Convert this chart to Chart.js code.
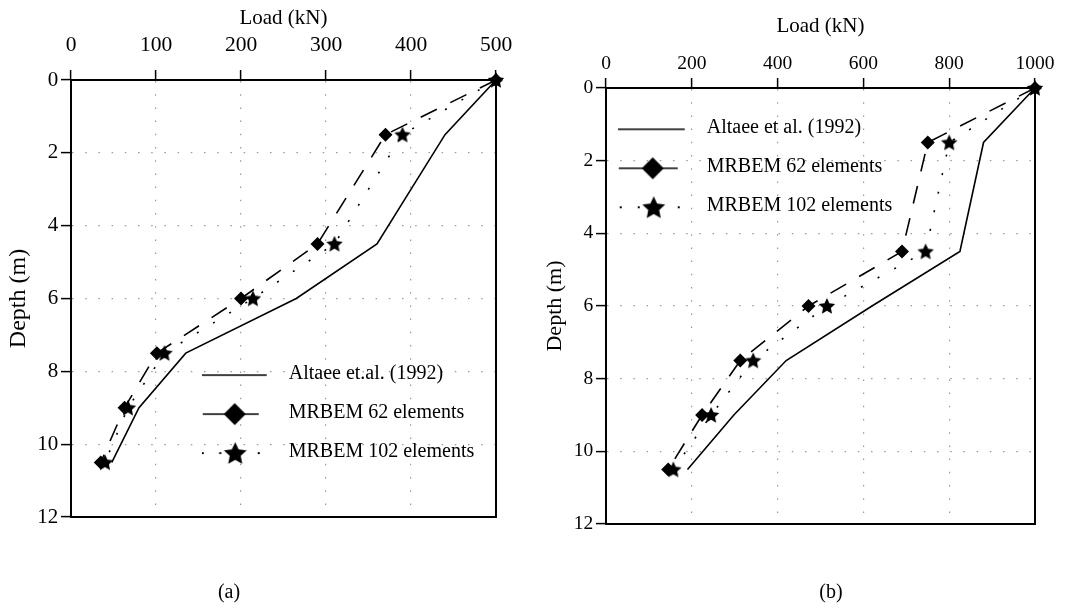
<!DOCTYPE html>
<html>
<head>
<meta charset="utf-8">
<script src="https://cdn.jsdelivr.net/npm/chart.js@4.4.1/dist/chart.umd.min.js"></script>
<style>
html, body { margin: 0; padding: 0; background: #ffffff; }
#wrap { position: relative; width: 1073px; height: 610px; overflow: hidden; background: #fff; }
#ca { position: absolute; left: 0; top: 0; width: 540px; height: 610px; }
#cb { position: absolute; left: 540px; top: 0; width: 533px; height: 610px; }
.sub { position: absolute; width: 100px; text-align: center; font-family: "Liberation Serif", "Times New Roman", serif; font-size: 20px; line-height: 20px; color: #000; }
</style>
</head>
<body>
<div id="wrap">
  <canvas id="ca" width="540" height="610"></canvas>
  <canvas id="cb" width="533" height="610"></canvas>
  <div class="sub" style="left:179px; top:581px;">(a)</div>
  <div class="sub" style="left:781px; top:581px;">(b)</div>
</div>
<script>
// ---------------- data ----------------
const depthLevels = [0, 1.5, 4.5, 6, 7.5, 9, 10.5];

const altaeeA   = [500, 440, 360, 265, 135, 80, 48];
const mrbem62A  = [500, 370, 290, 200, 101, 63, 35];
const mrbem102A = [500, 390, 310, 214, 110, 67, 40];

const altaeeB   = [1000, 880, 825, 620, 420, 298, 190];
const mrbem62B  = [1000, 750, 690, 472, 313, 224, 145];
const mrbem102B = [1000, 800, 745, 515, 343, 245, 157];

const labelsA = ['Altaee et.al. (1992)', 'MRBEM 62 elements', 'MRBEM 102 elements'];
const labelsB = ['Altaee et al. (1992)', 'MRBEM 62 elements', 'MRBEM 102 elements'];

const loadTicksA = [0, 100, 200, 300, 400, 500];
const loadTicksB = [0, 200, 400, 600, 800, 1000];
const depthTicks = [0, 2, 4, 6, 8, 10, 12];

const axisTitleX = 'Load (kN)';
const axisTitleY = 'Depth (m)';

// ---------------- helpers ----------------
const SERIF = '"Liberation Serif", "Times New Roman", serif';

function pairs(loads) {
  return loads.map((v, i) => ({ x: v, y: depthLevels[i] }));
}

function starPath(g, cx, cy, R, ratio) {
  g.beginPath();
  for (let i = 0; i < 10; i++) {
    const r = (i % 2) ? R * ratio : R;
    const a = -Math.PI / 2 + i * Math.PI / 5;
    const px = cx + r * Math.cos(a), py = cy + r * Math.sin(a);
    if (i === 0) g.moveTo(px, py); else g.lineTo(px, py);
  }
  g.closePath();
}

function starImage(R) {
  const s = Math.ceil(2 * R + 4);
  const c = document.createElement('canvas');
  c.width = s; c.height = s;
  const g = c.getContext('2d');
  g.fillStyle = '#000';
  starPath(g, s / 2, s / 2 + R * 0.08, R, 0.48);
  g.fill();
  return c;
}

// legend sample image: line + optional marker
function sampleImage(kind, W, lineLen, mx, yOff, dots) {
  const H = 34;
  const c = document.createElement('canvas');
  c.width = W; c.height = H;
  const g = c.getContext('2d');
  const ly = H / 2 + yOff;
  g.strokeStyle = '#000';
  g.fillStyle = '#000';
  g.lineWidth = 1.6;
  if (kind === 'solid') {
    g.beginPath(); g.moveTo(0, ly); g.lineTo(lineLen, ly); g.stroke();
  } else if (kind === 'diamond') {
    g.beginPath(); g.moveTo(1, ly); g.lineTo(lineLen, ly); g.stroke();
    const r = 11;
    g.beginPath();
    g.moveTo(mx, ly - r); g.lineTo(mx + r, ly); g.lineTo(mx, ly + r); g.lineTo(mx - r, ly);
    g.closePath(); g.fill();
  } else if (kind === 'star') {
    dots.forEach(d => g.fillRect(d - 1, ly - 1, 2, 2));
    starPath(g, mx, ly + 1, 12, 0.48);
    g.fill();
  }
  return c;
}

const starMarker = starImage(8.6);

function makeDatasets(alt, m62, m102, labels) {
  return [
    {
      label: labels[0], data: pairs(alt), showLine: true,
      borderColor: '#000', backgroundColor: '#000', borderWidth: 1.6,
      pointRadius: 0, pointHoverRadius: 0, tension: 0, clip: false
    },
    {
      label: labels[1], data: pairs(m62), showLine: true,
      borderColor: '#000', backgroundColor: '#000', borderWidth: 1.6,
      borderDash: [18, 15],
      pointStyle: 'rectRot', pointRadius: 7, pointBorderWidth: 0,
      pointBackgroundColor: '#000', pointHoverRadius: 7, tension: 0, clip: false
    },
    {
      label: labels[2], data: pairs(m102), showLine: true,
      borderColor: '#000', backgroundColor: '#000', borderWidth: 1.6,
      borderDash: [2, 17],
      pointStyle: starMarker, pointRadius: 8, pointHoverRadius: 8, tension: 0, clip: false
    }
  ];
}

function frameBorder() {
  return {
    id: 'frameBorder',
    beforeDatasetsDraw(chart) {
      const a = chart.chartArea, g = chart.ctx;
      g.save();
      g.strokeStyle = '#000';
      g.lineWidth = 2;
      g.beginPath();
      g.moveTo(Math.round(a.right), Math.round(a.top));
      g.lineTo(Math.round(a.right), Math.round(a.bottom) + 1);
      g.moveTo(Math.round(a.left) - 1, Math.round(a.bottom));
      g.lineTo(Math.round(a.right) + 1, Math.round(a.bottom));
      g.stroke();
      g.restore();
    }
  };
}

function legendMover(x, y) {
  return {
    id: 'legendMover',
    afterLayout(chart) {
      const l = chart.legend;
      if (!l) return;
      const w = l.width;
      l.left = x; l.top = y; l.right = x + w;
      l.bottom = chart.chartArea.bottom;
    }
  };
}

function makeChart(id, cfg) {
  const tickValues = cfg.xTicks;
  return new Chart(document.getElementById(id), {
    type: 'scatter',
    data: { datasets: makeDatasets(cfg.alt, cfg.m62, cfg.m102, cfg.labels) },
    options: {
      responsive: false,
      animation: false,
      devicePixelRatio: 1,
      layout: { padding: { left: 0, top: 0, right: cfg.padRight, bottom: cfg.padBottom } },
      plugins: {
        tooltip: { enabled: false },
        legend: {
          display: true,
          position: 'chartArea',
          align: 'start',
          labels: {
            usePointStyle: true,
            pointStyleWidth: cfg.boxW,
            padding: 19,
            color: '#000',
            font: { family: SERIF, size: 20 },
            generateLabels: () => cfg.labels.map((t, i) => ({
              text: t,
              fillStyle: '#000',
              strokeStyle: '#000',
              lineWidth: 0,
              hidden: false,
              datasetIndex: i,
              fontColor: '#000',
              pointStyle: cfg.samples[i]
            }))
          }
        }
      },
      scales: {
        x: {
          type: 'linear', position: 'top',
          min: tickValues[0], max: tickValues[tickValues.length - 1],
          afterBuildTicks: (s) => { s.ticks = tickValues.map(v => ({ value: v })); },
          ticks: {
            color: '#000', font: { family: SERIF, size: cfg.xTickSize },
            padding: cfg.xTickPad, maxRotation: 0, autoSkip: false,
            callback: (v) => String(v)
          },
          title: {
            display: true, text: axisTitleX, color: '#000',
            font: { family: SERIF, size: 21 },
            padding: { top: cfg.xTitlePad, bottom: 0 }
          },
          grid: { color: '#9a9a9a', lineWidth: 1.2, tickColor: '#000', tickLength: 10, tickWidth: 1.5 },
          border: { display: true, color: '#000', width: 2, dash: [1.5, 11.7] },
          afterFit: (s) => { s.height = cfg.top; }
        },
        y: {
          type: 'linear', position: 'left', reverse: true,
          min: 0, max: 12,
          afterBuildTicks: (s) => { s.ticks = depthTicks.map(v => ({ value: v })); },
          ticks: {
            color: '#000', font: { family: SERIF, size: cfg.yTickSize },
            padding: cfg.yTickPad, autoSkip: false,
            callback: (v) => String(v)
          },
          title: {
            display: true, text: axisTitleY, color: '#000',
            font: { family: SERIF, size: cfg.yTitleSize },
            padding: { top: cfg.yTitlePad, bottom: 0 }
          },
          grid: { color: '#9a9a9a', lineWidth: 1.2, tickColor: '#000', tickLength: 10, tickWidth: 1.5 },
          border: { display: true, color: '#000', width: 2, dash: [1.5, 11.7] },
          afterFit: (s) => { s.width = cfg.left; }
        }
      }
    },
    plugins: [frameBorder(), legendMover(cfg.legX, cfg.legY)]
  });
}

makeChart('ca', {
  alt: altaeeA, m62: mrbem62A, m102: mrbem102A, labels: labelsA,
  xTicks: loadTicksA,
  left: 71, top: 80, padRight: 44, padBottom: 93,
  xTickSize: 21.5, xTickPad: 11.5, xTitlePad: 5.7,
  yTickSize: 21, yTickPad: 2.7, yTitleSize: 24, yTitlePad: 4.2,
  boxW: 77, legX: 182.7, legY: 345.1,
  samples: [
    sampleImage('solid', 77, 65, 0, 1, []),
    sampleImage('diamond', 77, 57, 33, 1, []),
    sampleImage('star', 77, 0, 33.5, 1, [1, 18.5, 57])
  ]
});

makeChart('cb', {
  alt: altaeeB, m62: mrbem62B, m102: mrbem102B, labels: labelsB,
  xTicks: loadTicksB,
  left: 66, top: 88, padRight: 38, padBottom: 86,
  xTickSize: 19.5, xTickPad: 2.3, xTitlePad: 13.4,
  yTickSize: 19.5, yTickPad: 2.7, yTitleSize: 22, yTitlePad: 2.1,
  boxW: 79, legX: 58.7, legY: 98.3,
  samples: [
    sampleImage('solid', 79, 67, 0, 2, []),
    sampleImage('diamond', 79, 60, 35, 2, []),
    sampleImage('star', 79, 0, 36, 2, [3, 21, 61])
  ]
});
</script>
</body>
</html>
